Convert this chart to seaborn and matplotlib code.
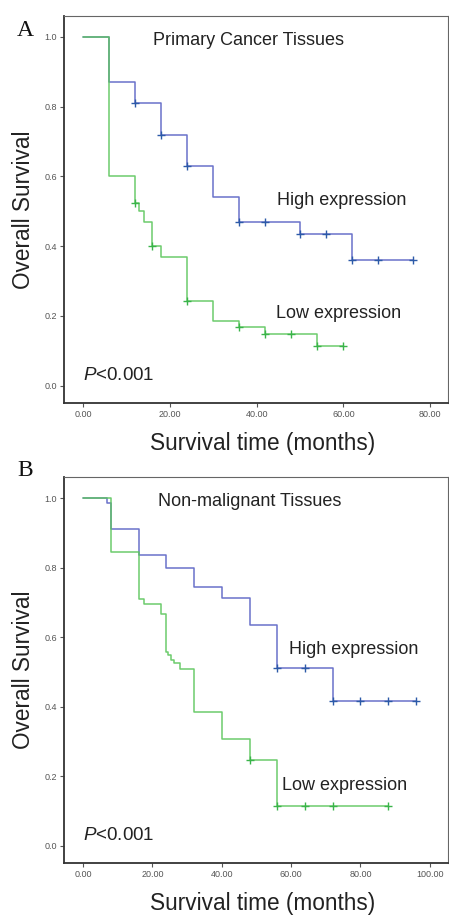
import numpy as np
import pandas as pd
import matplotlib
matplotlib.use("Agg")
import matplotlib.pyplot as plt
import seaborn as sns

# Panel A - primary cancer tissues
a_high_t = [0, 6, 12, 18, 24, 30, 36, 50, 62, 76]
a_high_s = [1.0, 0.87, 0.81, 0.72, 0.63, 0.54, 0.47, 0.434, 0.36, 0.36]
a_high_cens = [12, 18, 24, 36, 42, 50, 56, 62, 68, 76]

a_low_t = [0, 6, 12, 13, 14, 16, 18, 24, 30, 36, 42, 54, 60]
a_low_s = [1.0, 0.60, 0.525, 0.50, 0.47, 0.40, 0.37, 0.243, 0.185, 0.167, 0.149, 0.113, 0.113]
a_low_cens = [12, 16, 24, 36, 42, 48, 54, 60]

# Panel B - non-malignant tissues
b_high_t = [0, 7, 8, 16, 24, 32, 40, 48, 56, 72, 96]
b_high_s = [1.0, 0.985, 0.91, 0.837, 0.80, 0.745, 0.712, 0.636, 0.51, 0.416, 0.416]
b_high_cens = [56, 64, 72, 80, 88, 96]

b_low_t = [0, 8, 16, 17.6, 22.6, 23.8, 24.5, 25.5, 26.2, 27.9, 32, 40, 48, 56, 88]
b_low_s = [1.0, 0.845, 0.71, 0.695, 0.666, 0.557, 0.547, 0.535, 0.525, 0.509,
           0.385, 0.306, 0.245, 0.113, 0.113]
b_low_cens = [48, 56, 64, 72, 88]

a_xticks = [0, 20, 40, 60, 80]
b_xticks = [0, 20, 40, 60, 80, 100]
yticks = [0.0, 0.2, 0.4, 0.6, 0.8, 1.0]

HIGH = "#5a62c4"
HIGH_MARK = "#2c5aa8"
LOW = "#5cc65c"
LOW_MARK = "#3ab44a"

sns.set_style("white")
plt.rcParams["font.family"] = ["Liberation Sans", "DejaVu Sans"]
plt.rcParams["mathtext.fontset"] = "custom"
plt.rcParams["mathtext.it"] = "Liberation Sans:italic"
plt.rcParams["mathtext.rm"] = "Liberation Sans"


def km_frame(t, s, cens):
    curve = pd.DataFrame({"time": t, "surv": s})
    idx = np.searchsorted(np.array(t), np.array(cens), side="right") - 1
    marks = pd.DataFrame({"time": cens, "surv": np.array(s)[idx]})
    return curve, marks


def draw_panel(ax, high, low, xlim, xticks, title, title_x, hi_pos, lo_pos):
    for (t, s, c), col, mcol in [(high, HIGH, HIGH_MARK), (low, LOW, LOW_MARK)]:
        curve, marks = km_frame(t, s, c)
        sns.lineplot(data=curve, x="time", y="surv", ax=ax, color=col,
                     drawstyle="steps-post", estimator=None, linewidth=1.1,
                     alpha=0.9)
        sns.scatterplot(data=marks, x="time", y="surv", ax=ax, color=mcol,
                        marker="+", s=40, linewidth=1.0, zorder=5)

    ax.set_xlim(*xlim)
    ax.set_ylim(-0.05, 1.06)
    ax.set_xticks(xticks)
    ax.set_xticklabels([f"{v:.2f}" for v in xticks])
    ax.set_yticks(yticks)
    ax.set_yticklabels([f"{v:.1f}" for v in yticks])
    ax.tick_params(direction="out", length=3, width=0.8, labelsize=6.5,
                   colors="#555555", left=True, bottom=True, pad=2)
    for side in ["left", "bottom"]:
        ax.spines[side].set_color("#333333")
        ax.spines[side].set_linewidth(1.3)
    for side in ["top", "right"]:
        ax.spines[side].set_color("#666666")
        ax.spines[side].set_linewidth(0.8)

    ax.set_xlabel("Survival time (months)", fontsize=16.3, color="#222222")
    ax.xaxis.set_label_coords(0.517, -0.075)
    ax.set_ylabel("Overall Survival", fontsize=16.3, color="#222222", labelpad=7)

    ax.text(title_x, 0.99, title, fontsize=13, color="#222222", va="center")
    ax.text(hi_pos[0], hi_pos[1], "High expression", fontsize=13, color="#222222", va="center")
    ax.text(lo_pos[0], lo_pos[1], "Low expression", fontsize=13, color="#222222", va="center")
    ax.text(0, 0.03, r"$P$<0.001", fontsize=13.5, color="#222222", va="center")


fig = plt.figure(figsize=(4.49, 9.16), dpi=100)
ax_a = fig.add_axes([0.1425, 0.56, 0.855, 0.4225])
ax_b = fig.add_axes([0.1425, 0.058, 0.855, 0.421])

draw_panel(ax_a, (a_high_t, a_high_s, a_high_cens), (a_low_t, a_low_s, a_low_cens),
           (-4.4, 84.1), a_xticks, "Primary Cancer Tissues", 16.1,
           (44.8, 0.53), (44.4, 0.206))
draw_panel(ax_b, (b_high_t, b_high_s, b_high_cens), (b_low_t, b_low_s, b_low_cens),
           (-5.5, 105.2), b_xticks, "Non-malignant Tissues", 21.6,
           (59.5, 0.565), (57.5, 0.173))

for letter, ypos in [("A", 1 - 30 / 916), ("B", 1 - 470 / 916)]:
    fig.text(25 / 449, ypos, letter, fontsize=17, family="Liberation Serif",
             color="#111111", va="center", ha="center")

fig.savefig("out.png", dpi=100)
